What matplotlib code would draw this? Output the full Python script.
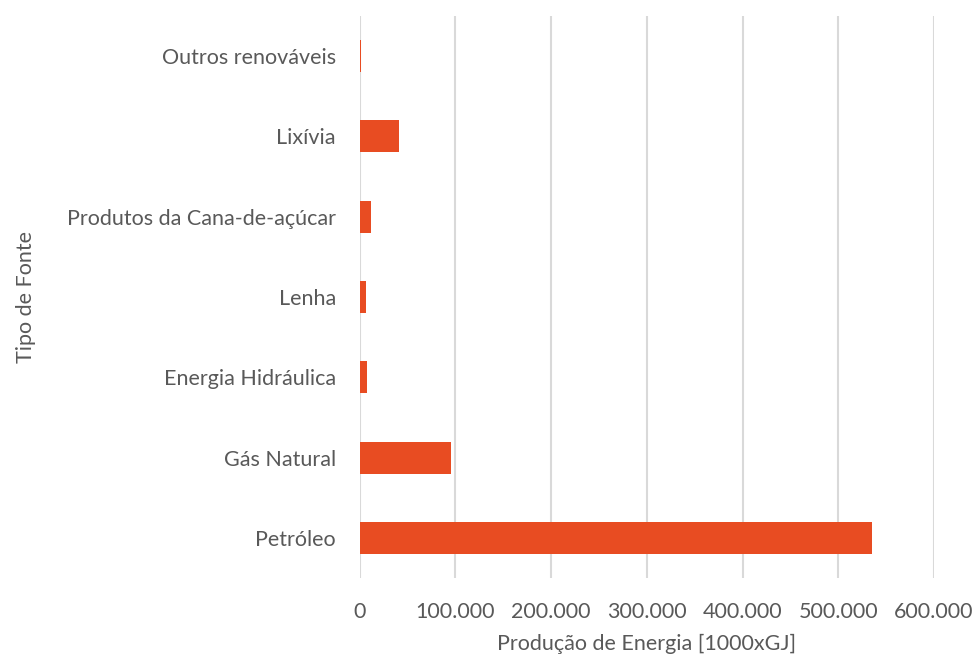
import matplotlib
matplotlib.use("Agg")
import matplotlib.pyplot as plt
from matplotlib.ticker import FuncFormatter

categories = ["Petróleo", "Gás Natural", "Energia Hidráulica", "Lenha",
              "Produtos da Cana-de-açúcar", "Lixívia", "Outros renováveis"]
values = [535000, 96000, 7400, 6500, 11500, 41500, 1200]
xticks = [0, 100000, 200000, 300000, 400000, 500000, 600000]

plt.rcParams['font.family'] = ['Lato', 'DejaVu Sans']
fig = plt.figure(figsize=(9.75, 6.57), dpi=100)
ax = fig.add_axes([359.5/975, 1-578/657, (934-359.5)/975, (578-16)/657])

colors = ["#E84C22"] * len(values)
ax.barh(range(len(categories)), values, height=0.4, color=colors, zorder=3)
ax.set_xlim(0, 600000)
ax.set_ylim(-0.5, len(categories) - 0.5)
ax.set_xticks(xticks)
ax.xaxis.set_major_formatter(FuncFormatter(lambda v, p: "0" if v == 0 else f"{int(v):,}".replace(",", ".")))
ax.set_yticks(range(len(categories)))
ax.set_yticklabels(categories)
ax.grid(axis='x', color="#d9d9d9", linewidth=1.5, zorder=0)
for s in ax.spines.values():
    s.set_visible(False)
ax.tick_params(axis='both', length=0, labelsize=15.5, labelcolor="#595959")
ax.tick_params(axis='x', pad=17)
ax.tick_params(axis='y', pad=17)
ax.set_xlabel("Produção de Energia [1000xGJ]", fontsize=15.5, color="#595959", labelpad=9)
ax.set_ylabel("Tipo de Fonte", fontsize=15.5, color="#595959", labelpad=22)
fig.savefig("out.png", dpi=100)
